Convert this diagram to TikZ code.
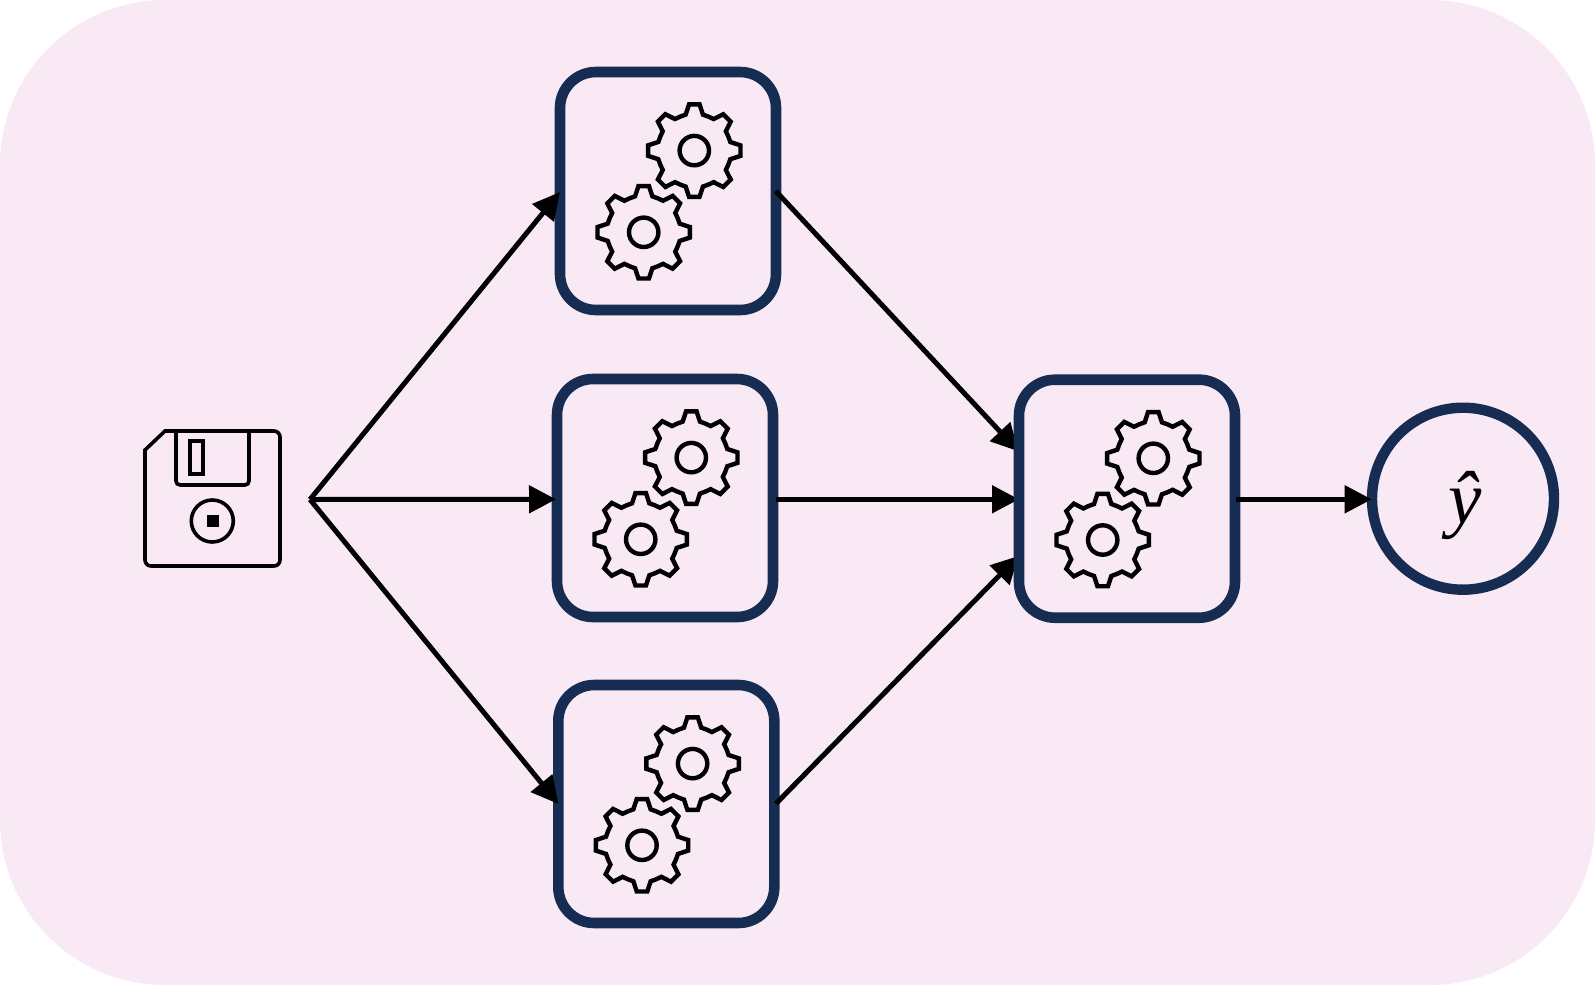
\documentclass[tikz,border=0pt]{standalone}
\usepackage{fontspec}
\newfontfamily\yfont{Liberation Serif}
\usetikzlibrary{arrows.meta}
\definecolor{bgpink}{HTML}{F9E9F5}
\definecolor{navy}{HTML}{162C52}
\tikzset{
  unitbox/.style={draw=navy,line width=10.6pt,rectangle,rounded corners=36pt,minimum width=216pt,minimum height=238pt,outer sep=0pt,inner sep=0pt},
  outcircle/.style={draw=navy,line width=10.4pt,circle,minimum size=182pt,outer sep=0pt,inner sep=0pt},
  conn/.style={draw=black,line width=5pt,-{Triangle[length=27pt,width=27pt]}},
  iconline/.style={draw=black,line width=4.4pt,line join=miter},
  floppyline/.style={draw=black,line width=3.6pt},
  gearpic/.pic={
    \draw[iconline] (-13.5:37)
      \foreach \a in {0,45,...,315}{ -- (\a-13.5:37) -- (\a-6.5:46.5) -- (\a+6.5:46.5) -- (\a+13.5:37) -- (\a+22.5:36.8) } -- cycle;
    \draw[iconline] (0,0) circle (14.7);
  },
  gearpair/.pic={
    \pic at (26.3,-40.4) {gearpic};
    \pic at (-24.3,41.3) {gearpic};
  }
}
\begin{document}
\begin{tikzpicture}[x=1pt,y=-1pt]
\useasboundingbox (0,0) rectangle (1595,985);
\fill[bgpink,rounded corners=165pt] (0,0) rectangle (1595,985);

% floppy disk
\draw[floppyline] (145,450) -- (165,431) [rounded corners=6pt] -- (280,431) -- (280,566) -- (145,566) [sharp corners] -- cycle;
\draw[floppyline,rounded corners=4pt] (176,431) -- (176,485) -- (249,485) -- (249,431);
\draw[floppyline] (190,441) rectangle (203,474);
\draw[floppyline] (212.3,521) circle (21);
\fill[black] (206.5,515) rectangle (219,527);

% named anchors of the connectors
\coordinate (src) at (310,499.5);
\coordinate (m4a) at (1018.4,451.3);
\coordinate (m4b) at (1019,499.3);
\coordinate (m4c) at (1018.4,556);
\coordinate (t1) at (775.7,191);
\coordinate (t2) at (776,499.3);
\coordinate (t3) at (776,803.6);
\coordinate (t4) at (1235.7,499.3);
\coordinate (h1) at (560,192);
\coordinate (h2) at (556,499.3);
\coordinate (h3) at (558.5,804);
\coordinate (h4) at (1371.7,499.3);

% units
\node[unitbox] (m1) at (668,191) {};
\node[unitbox] (m2) at (665,498) {};
\node[unitbox] (m3) at (666.3,804) {};

% connectors into the fourth unit lie behind it, over the first three
\draw[conn] (t1) -- (m4a);
\draw[conn] (t2) -- (m4b);
\draw[conn] (t3) -- (m4c);

\node[unitbox] (m4) at (1127,498.7) {};
\node[outcircle] (out) at (1463,498.7) {};
\node[font=\yfont\itshape\fontsize{75}{75}\selectfont,inner sep=0pt] (yhat) at (1465,506) {ŷ};

\pic at (m1.center) {gearpair};
\pic at (m2.center) {gearpair};
\pic at (m3.center) {gearpair};
\pic at (m4.center) {gearpair};

\draw[conn] (src) -- (h1);
\draw[conn] (src) -- (h2);
\draw[conn] (src) -- (h3);
\draw[conn] (t4) -- (h4);
\end{tikzpicture}
\end{document}
